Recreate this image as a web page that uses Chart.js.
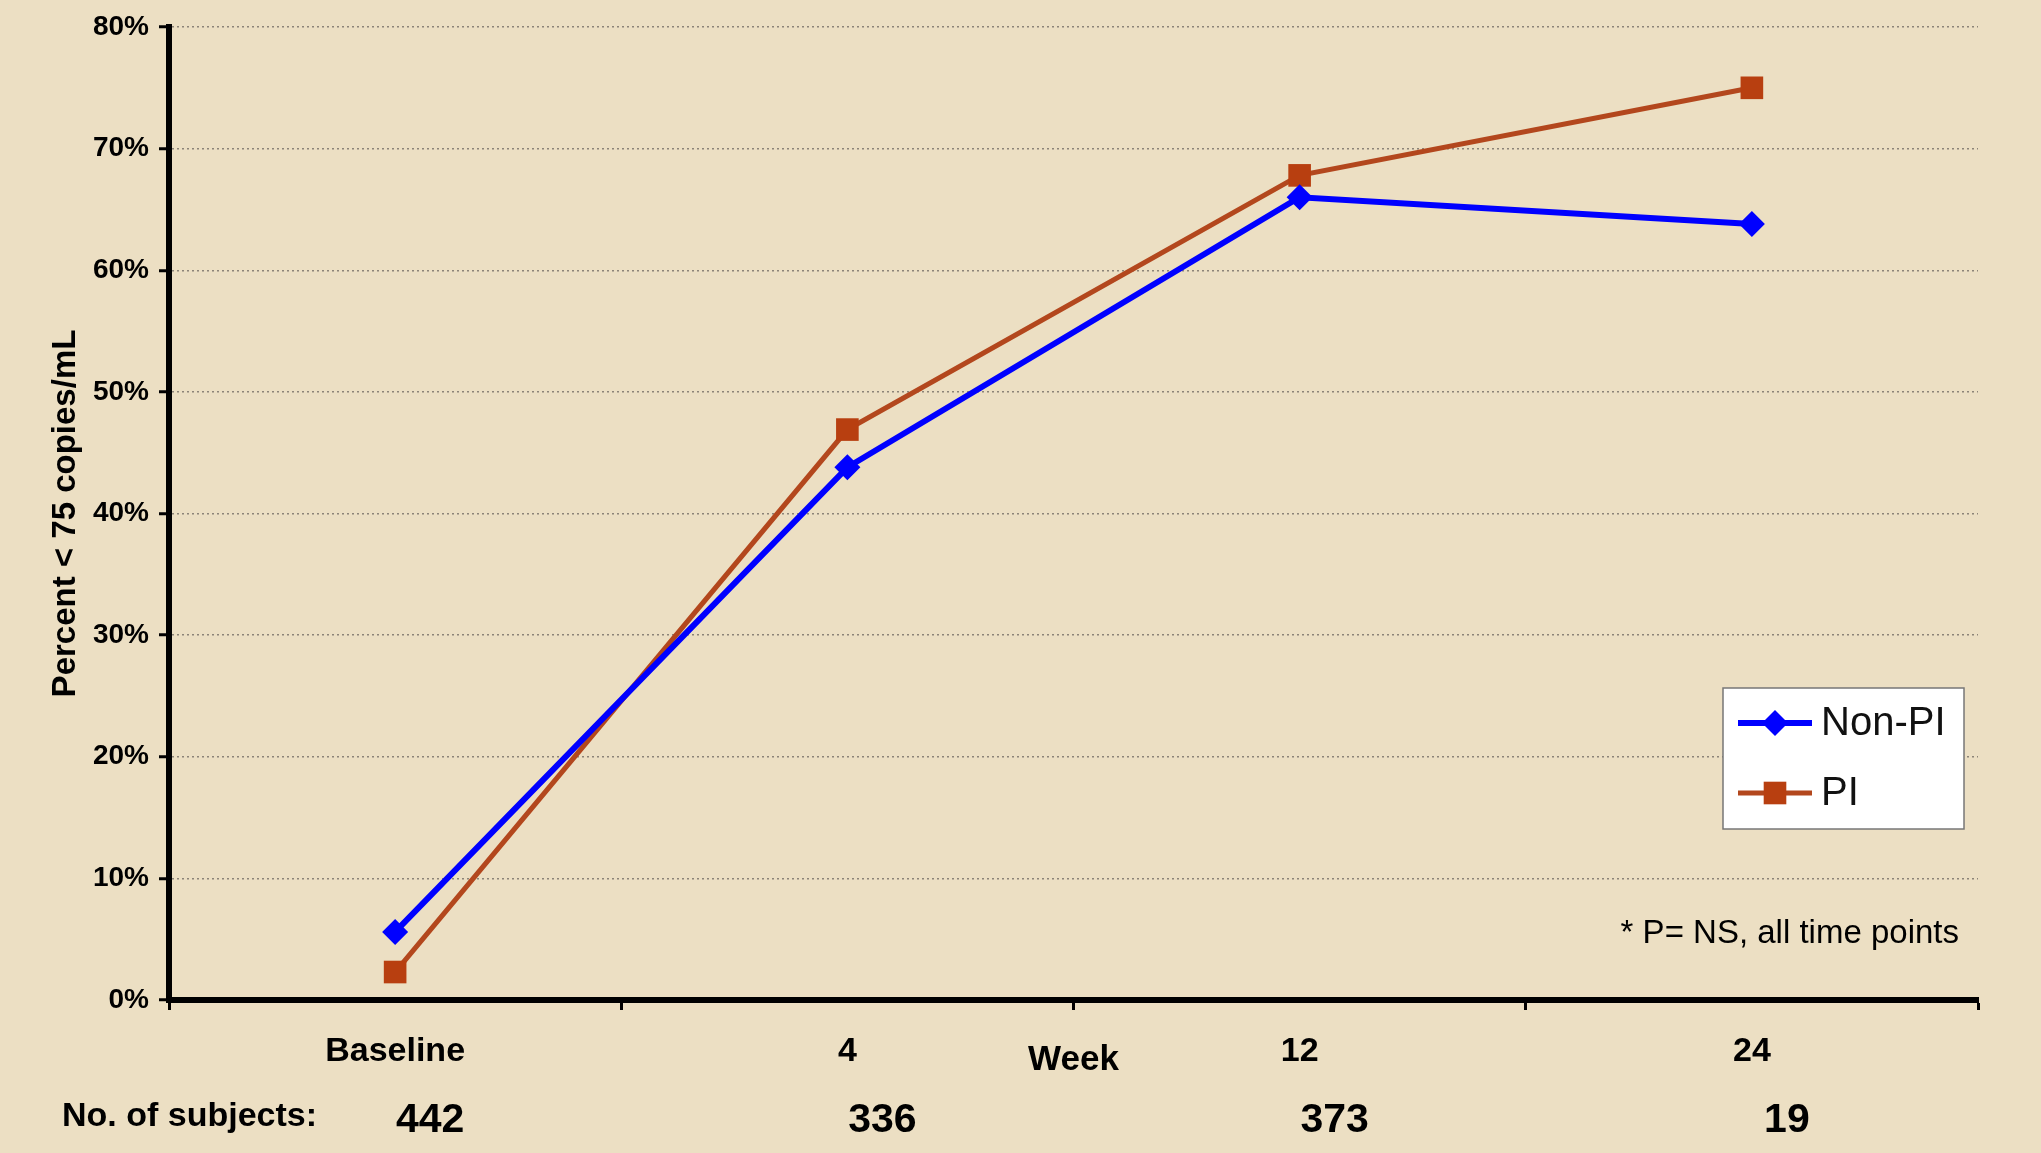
<!DOCTYPE html>
<html>
<head>
<meta charset="utf-8">
<script src="https://cdn.jsdelivr.net/npm/chart.js@4.4.0/dist/chart.umd.min.js"></script>
<style>
    html, body { margin: 0; padding: 0; background: #ECDFC3; }
    #wrap { width: 2041px; height: 1153px; }
</style>
</head>
<body>
<div id="wrap"><canvas id="chart" width="2041" height="1153"></canvas></div>
<script>
const weeks = ['Baseline', '4', '12', '24'];
const nonPI = [5.6, 43.8, 66.0, 63.8];
const pi = [2.3, 46.9, 67.8, 75.0];
const subjects = [442, 336, 373, 19];
const seriesNames = ['Non-PI', 'PI'];
const footnote = '* P= NS, all time points';

const FONT = '"Liberation Sans", Arial, sans-serif';

// extra text under the axis + legend box + footnote
const overlay = {
    id: 'overlay',
    afterDraw(chart) {
        const ctx = chart.ctx;
        const x = chart.scales.x;
        const area = chart.chartArea;
        ctx.save();
        ctx.fillStyle = '#000';
        ctx.textBaseline = 'middle';

        ctx.font = 'bold 34px ' + FONT;
        ctx.textAlign = 'left';
        ctx.fillText('No. of subjects:', 62, 1117);

        ctx.font = 'bold 41px ' + FONT;
        ctx.textAlign = 'center';
        subjects.forEach((n, i) => {
            ctx.fillText(String(n), x.getPixelForValue(i) + 35, 1121);
        });

        ctx.font = '33px ' + FONT;
        ctx.textAlign = 'right';
        ctx.fillText(footnote, area.right - 19, 934);

        // legend
        const bx = 1723, by = 688, bw = 241, bh = 141;
        ctx.fillStyle = '#fff';
        ctx.fillRect(bx, by, bw, bh);
        ctx.strokeStyle = '#777';
        ctx.lineWidth = 1.5;
        ctx.strokeRect(bx, by, bw, bh);

        chart.data.datasets.forEach((ds, i) => {
            const cy = by + 35 + i * 70;
            ctx.strokeStyle = ds.borderColor;
            ctx.lineWidth = ds.borderWidth;
            ctx.beginPath();
            ctx.moveTo(bx + 15, cy);
            ctx.lineTo(bx + 89, cy);
            ctx.stroke();
            ctx.fillStyle = ds.pointBackgroundColor;
            Chart.helpers.drawPoint(ctx, {
                pointStyle: ds.pointStyle,
                radius: ds.pointRadius,
                borderWidth: 0,
                rotation: 0
            }, bx + 52, cy);
            ctx.fillStyle = '#111';
            ctx.font = '40px ' + FONT;
            ctx.textAlign = 'left';
            ctx.fillText(ds.label, bx + 98, cy + 1);
        });
        ctx.restore();
    }
};

new Chart(document.getElementById('chart'), {
    type: 'line',
    data: {
        labels: weeks,
        datasets: [
            {
                label: seriesNames[0],
                data: nonPI,
                borderColor: '#0000FF',
                borderWidth: 6,
                pointStyle: 'rectRot',
                pointRadius: 13,
                pointBackgroundColor: '#0000FF',
                pointBorderWidth: 0,
                tension: 0
            },
            {
                label: seriesNames[1],
                data: pi,
                borderColor: '#B3471D',
                borderWidth: 5,
                pointStyle: 'rect',
                pointRadius: 16,
                pointBackgroundColor: '#B83F10',
                pointBorderWidth: 0,
                tension: 0
            }
        ]
    },
    options: {
        responsive: false,
        animation: false,
        devicePixelRatio: 1,
        layout: { padding: { top: 27, right: 63, left: 0, bottom: 0 } },
        plugins: {
            legend: { display: false },
            tooltip: { enabled: false }
        },
        scales: {
            x: {
                offset: true,
                afterFit(scale) { scale.height = 153; },
                grid: {
                    offset: true,
                    drawOnChartArea: false,
                    drawTicks: true,
                    tickLength: 10,
                    tickColor: '#000',
                    tickWidth: 3
                },
                border: { color: '#000', width: 6 },
                ticks: {
                    color: '#000',
                    padding: 21,
                    font: { family: FONT, size: 34, weight: 'bold' }
                },
                title: {
                    display: true,
                    text: 'Week',
                    color: '#000',
                    padding: { top: 0, bottom: 72 },
                    font: { family: FONT, size: 35, weight: 'bold' }
                }
            },
            y: {
                min: 0,
                max: 80,
                afterFit(scale) { scale.width = 169; },
                grid: {
                    color: '#8c8478',
                    lineWidth: 1.5,
                    tickLength: 10,
                    tickColor: '#000',
                    tickWidth: 3
                },
                border: { color: '#000', width: 6, dash: [2, 3] },
                ticks: {
                    stepSize: 10,
                    color: '#000',
                    padding: 10,
                    font: { family: FONT, size: 28, weight: 'bold' },
                    callback: v => v + '%'
                },
                title: {
                    display: true,
                    text: 'Percent < 75 copies/mL',
                    color: '#000',
                    padding: { top: 46, bottom: 0 },
                    font: { family: FONT, size: 33, weight: 'bold' }
                }
            }
        }
    },
    plugins: [overlay]
});
</script>
</body>
</html>
